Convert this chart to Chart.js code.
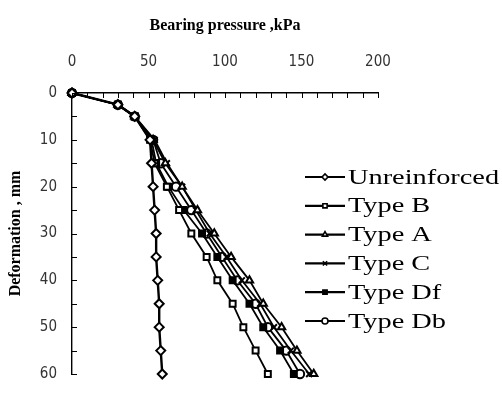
<!DOCTYPE html>
<html>
<head>
<meta charset="utf-8">
<script src="https://cdn.jsdelivr.net/npm/chart.js@4"></script>
<style>
  body { margin: 0; background: #fff; }
  canvas { display: block; }
</style>
</head>
<body>
<canvas id="myChart" width="502" height="398"></canvas>
<script>
// deformation steps (mm) shared by every test
const deformation = [0, 2.5, 5, 10, 15, 20, 25, 30, 35, 40, 45, 50, 55, 60];

// bearing pressure (kPa)
const unreinforced = [0, 30, 41, 51, 52, 53, 54, 55, 55, 56, 57, 57, 58, 59];
const typeB = [0, 30, 41, 51, 54, 62, 70, 78, 88, 95, 105, 112, 120, 128];
const typeA = [0, 30, 41, 53, 61, 72, 82, 93, 104, 116, 125, 137, 147, 158];
const typeC = [0, 30, 41, 54, 62, 72, 81, 90, 101, 111, 123, 132, 143, 155];
const typeDf = [0, 30, 41, 52, 55, 63, 73, 85, 95, 105, 116, 125, 136, 145];
const typeDb = [0, 30, 41, 53, 58, 68, 78, 88, 98, 108, 120, 128, 140, 149];

const seriesNames = ['Unreinforced', 'Type B', 'Type A', 'Type C', 'Type Df', 'Type Db'];
const seriesValues = [unreinforced, typeB, typeA, typeC, typeDf, typeDb];
const markers = ['rectRot', 'rect', 'triangle', 'crossRot', 'rect', 'circle'];
const markerFill = ['#fff', '#fff', '#fff', '#000', '#000', '#fff'];

const xTicks = [0, 50, 100, 150, 200];
const yTicks = [0, 10, 20, 30, 40, 50, 60];

const toPoints = (vals) => vals.map((v, i) => ({ x: v, y: deformation[i] }));

const datasets = seriesValues.map((vals, i) => ({
    label: seriesNames[i],
    data: toPoints(vals),
    borderColor: '#000',
    borderWidth: i === 0 ? 2.4 : 1.8,
    pointStyle: markers[i],
    pointRadius: markers[i] === 'rectRot' ? 4.5 : 4.2,
    pointBorderWidth: 2,
    pointBorderColor: '#000',
    pointBackgroundColor: markerFill[i],
    clip: false,
    tension: 0
}));

// small inward tick marks on both axes
const innerTicks = {
    id: 'innerTicks',
    afterDraw(chart) {
        const { ctx, chartArea, scales } = chart;
        ctx.save();
        ctx.strokeStyle = '#000';
        ctx.lineWidth = 1;
        scales.x.ticks.forEach(t => {
            const px = Math.round(scales.x.getPixelForValue(t.value)) + 0.5;
            ctx.beginPath();
            ctx.moveTo(px, chartArea.top);
            ctx.lineTo(px, chartArea.top + 5);
            ctx.stroke();
        });
        scales.y.ticks.forEach(t => {
            const py = Math.round(scales.y.getPixelForValue(t.value)) + 0.5;
            ctx.beginPath();
            ctx.moveTo(chartArea.left, py);
            ctx.lineTo(chartArea.left + 5, py);
            ctx.stroke();
        });
        ctx.restore();
    }
};

// legend drawn to the right, overlapping the empty part of the plot
const sideLegend = {
    id: 'sideLegend',
    afterDraw(chart) {
        const ctx = chart.ctx;
        ctx.save();
        chart.data.datasets.forEach((ds, i) => {
            const y = 177 + i * 28.8;
            ctx.strokeStyle = '#000';
            ctx.lineWidth = 2.2;
            ctx.beginPath();
            ctx.moveTo(305, y);
            ctx.lineTo(345, y);
            ctx.stroke();
            ctx.fillStyle = ds.pointBackgroundColor;
            ctx.lineWidth = 1.6;
            Chart.helpers.drawPoint(ctx, {
                pointStyle: ds.pointStyle, radius: 3, borderWidth: 1.6, rotation: 0
            }, 325, y);
            ctx.save();
            ctx.translate(348, y + 1);
            ctx.scale(1.35, 1);
            ctx.fillStyle = '#000';
            ctx.font = '21px "Liberation Serif", "Times New Roman", serif';
            ctx.textBaseline = 'middle';
            ctx.fillText(ds.label, 0, 0);
            ctx.restore();
        });
        ctx.restore();
    }
};

const tickFont = { family: '"DejaVu Sans Condensed", sans-serif', size: 15 };
const titleFont = { family: '"Liberation Serif", "Times New Roman", serif', size: 16, weight: 'bold' };

const ctx = document.getElementById('myChart').getContext('2d');

new Chart(ctx, {
    type: 'line',
    data: { datasets: datasets },
    plugins: [innerTicks, sideLegend],
    options: {
        responsive: false,
        animation: false,
        devicePixelRatio: 1,
        layout: { padding: { left: 0, top: 0, right: 124, bottom: 5 } },
        plugins: {
            legend: { display: false },
            tooltip: { enabled: false }
        },
        scales: {
            x: {
                type: 'linear',
                position: 'top',
                min: 0,
                max: 200,
                afterFit: (scale) => { scale.height = 93; },
                grid: { display: true, drawOnChartArea: false, drawTicks: false },
                border: { display: true, color: '#000', width: 1.4 },
                ticks: {
                    stepSize: 10,
                    autoSkip: false,
                    maxRotation: 0,
                    padding: 22,
                    color: '#333',
                    font: tickFont,
                    callback: (v) => xTicks.includes(v) ? v : ''
                },
                title: {
                    display: true,
                    text: 'Bearing pressure ,kPa',
                    color: '#000',
                    font: titleFont,
                    padding: { top: 16, bottom: 0 }
                }
            },
            y: {
                type: 'linear',
                reverse: true,
                min: 0,
                max: 60,
                afterFit: (scale) => { scale.width = 72; },
                grid: { display: true, drawOnChartArea: false, drawTicks: false },
                border: { display: true, color: '#000', width: 1.4 },
                ticks: {
                    stepSize: 5,
                    autoSkip: false,
                    padding: 15,
                    color: '#333',
                    font: tickFont,
                    callback: (v) => yTicks.includes(v) ? v : ''
                },
                title: {
                    display: true,
                    text: 'Deformation , mm',
                    color: '#000',
                    font: titleFont,
                    padding: { top: 6, bottom: 0 }
                }
            }
        }
    }
});
</script>
</body>
</html>
